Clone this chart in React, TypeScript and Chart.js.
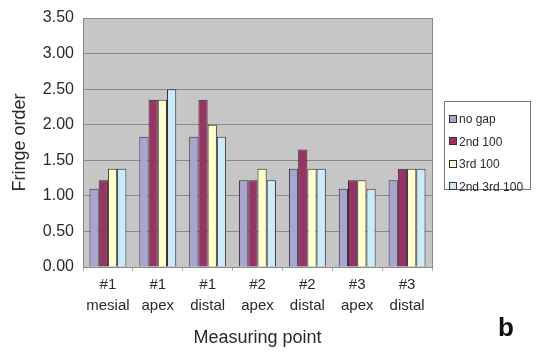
import React, { useEffect, useRef } from "react";
import { Chart, registerables } from "chart.js";

Chart.register(...registerables);

const categories: string[][] = [
  ["#1", "mesial"],
  ["#1", "apex"],
  ["#1", "distal"],
  ["#2", "apex"],
  ["#2", "distal"],
  ["#3", "apex"],
  ["#3", "distal"],
];

const seriesNames = ["no gap", "2nd 100", "3rd 100", "2nd 3rd 100"];
const noGap = [1.1, 1.83, 1.83, 1.22, 1.38, 1.1, 1.22];
const second100 = [1.22, 2.35, 2.35, 1.22, 1.65, 1.22, 1.38];
const third100 = [1.38, 2.35, 2.0, 1.38, 1.38, 1.22, 1.38];
const second3rd100 = [1.38, 2.5, 1.83, 1.22, 1.38, 1.1, 1.38];
const seriesColors = ["#A9A5D3", "#993366", "#FFFFCC", "#CCEBFA"];
const yTicks = [0, 0.5, 1, 1.5, 2, 2.5, 3, 3.5];

const FONT = "'Liberation Sans', Arial, sans-serif";
const TEXT = "#2a2a2a";

const plotBg = {
  id: "plotBg",
  beforeDraw(chart: any) {
    const { ctx, chartArea: a } = chart;
    ctx.save();
    ctx.fillStyle = "#C6C6C6";
    ctx.fillRect(a.left, a.top, a.right - a.left, a.bottom - a.top);
    ctx.restore();
  },
  afterDraw(chart: any) {
    const { ctx, chartArea: a } = chart;
    ctx.save();
    ctx.strokeStyle = "#8a8a8a";
    ctx.lineWidth = 1;
    ctx.strokeRect(Math.round(a.left) + 0.5, Math.round(a.top) + 0.5, a.right - a.left, a.bottom - a.top);
    // legend
    const lx = 436, ly = 93, lw = 86, lh = 88;
    ctx.strokeStyle = "#777";
    ctx.strokeRect(lx + 0.5, ly + 0.5, lw, lh);
    ctx.font = `12px ${FONT}`;
    ctx.textBaseline = "middle";
    ctx.fillStyle = TEXT;
    chart.data.datasets.forEach((ds: any, i: number) => {
      const cy = ly + 18 + i * 22.4;
      ctx.fillStyle = ds.backgroundColor;
      ctx.fillRect(lx + 5, Math.round(cy - 4), 8, 8);
      ctx.strokeStyle = "#333";
      ctx.strokeRect(lx + 5.5, Math.round(cy - 4) + 0.5, 7, 7);
      ctx.fillStyle = TEXT;
      ctx.fillText(ds.label, lx + 15, cy + 1);
    });
    // panel letter
    ctx.font = `bold 26px ${FONT}`;
    ctx.fillStyle = "#111";
    ctx.textBaseline = "alphabetic";
    ctx.fillText("b", 490, 328);
    ctx.restore();
  },
};

export default function App() {
  const ref = useRef<HTMLCanvasElement>(null);
  useEffect(() => {
    if (!ref.current) return;
    const values = [noGap, second100, third100, second3rd100];
    const chart = new Chart(ref.current, {
      type: "bar",
      data: {
        labels: categories,
        datasets: seriesNames.map((name, i) => ({
          label: name,
          data: values[i],
          backgroundColor: seriesColors[i],
          borderColor: "#333333",
          borderWidth: 1,
          categoryPercentage: 0.74,
          barPercentage: 1.0,
        })),
      },
      options: {
        animation: false,
        responsive: true,
        maintainAspectRatio: false,
        layout: { padding: { top: 10, right: 100, bottom: 4, left: 0 } },
        plugins: { legend: { display: false }, tooltip: { enabled: false } },
        scales: {
          x: {
            grid: { display: true, drawOnChartArea: false, drawTicks: true, tickLength: 4, color: "#aaa", offset: true },
            border: { display: true, color: "#8a8a8a" },
            ticks: { color: TEXT, font: { family: FONT, size: 15, lineHeight: 1.35 }, padding: 4, maxRotation: 0, autoSkip: false },
            title: { display: true, text: "Measuring point", color: TEXT, font: { family: FONT, size: 18 }, padding: { top: 0, bottom: 0 } },
            afterFit: (s: any) => { s.height = 82; s.paddingLeft = 0; s.paddingRight = 0; },
          },
          y: {
            min: 0,
            max: 3.5,
            afterBuildTicks: (s: any) => { s.ticks = yTicks.map((v) => ({ value: v })); },
            grid: { color: "#8a8a8a", drawTicks: false, lineWidth: 1 },
            border: { display: true, color: "#8a8a8a" },
            ticks: { color: TEXT, font: { family: FONT, size: 16 }, padding: 9, callback: (v: any) => Number(v).toFixed(2) },
            title: { display: true, text: "Fringe order", color: TEXT, font: { family: FONT, size: 18 }, padding: { top: 1, bottom: 0 } },
            afterFit: (s: any) => { s.width = 75; s.paddingTop = 0; s.paddingBottom = 0; },
          },
        },
      },
      plugins: [plotBg],
    });
    return () => chart.destroy();
  }, []);
  return (
    <div style={{ width: 524, height: 345 }}>
      <canvas ref={ref} />
    </div>
  );
}
